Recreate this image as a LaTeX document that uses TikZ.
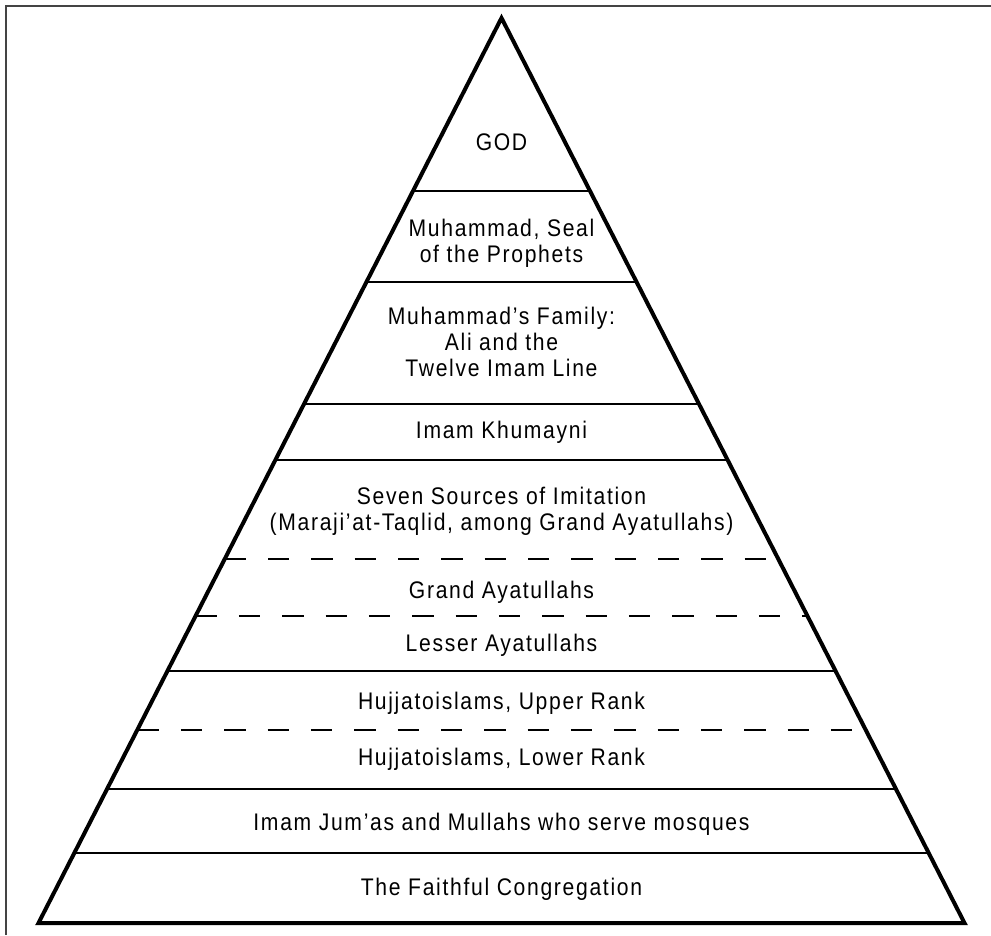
\documentclass[tikz,border=0pt]{standalone}
\usepackage{fontspec}
\setmainfont[FakeStretch=0.88,LetterSpace=7]{Liberation Sans}
\definecolor{framegray}{HTML}{444444}
\newcommand\tierrule[2]{\pgfmathsetmacro\tierhw{0.5116*(#2-18)}\draw[#1] ({501.5-\tierhw},#2) -- ({501.5+\tierhw},#2);}
\tikzset{
  lbl/.style={font=\fontsize{18}{19.7}\selectfont, align=center, anchor=base, inner sep=0pt},
  solidrule/.style={line width=1.5pt, black},
  dashrule/.style={line width=1.5pt, black, dash pattern=on 16pt off 16.5pt},
  pyramid/.style={line width=3pt, black, line join=miter},
  framerule/.style={line width=1.5pt, framegray}
}
\begin{document}
\begin{tikzpicture}[x=0.75pt,y=-0.75pt]
\useasboundingbox (0,0) rectangle (991,935);
\fill[white] (0,0) rectangle (991,935);
\draw[framerule] (6,935) -- (6,6) -- (991,6);
% tier rules
\tierrule{solidrule}{190.5}
\tierrule{solidrule}{282}
\tierrule{solidrule}{403.5}
\tierrule{solidrule}{460}
\tierrule{dashrule}{559}
\tierrule{dashrule}{616}
\tierrule{solidrule}{671}
\tierrule{dashrule}{729.5}
\tierrule{solidrule}{788.5}
\tierrule{solidrule}{853}
% pyramid outline
\coordinate (apex) at (501.5,18);
\coordinate (bl) at (38.5,923);
\coordinate (br) at (964.5,923);
\draw[pyramid] (apex) -- (bl) -- (br) -- cycle;
% labels (base anchor = baseline of the last line)
\node[lbl] (god) at (501.5,150) {GOD};
\node[lbl] (muh) at (501.5,262.7) {Muhammad, Seal\\of the Prophets};
\node[lbl] (fam) at (501.5,376.7) {Muhammad’s Family:\\Ali and the\\Twelve Imam Line};
\node[lbl] (khu) at (501.5,438.3) {Imam Khumayni};
\node[lbl] (sev) at (501.5,530.7) {Seven Sources of Imitation\\(Maraji’at-Taqlid, among Grand Ayatullahs)};
\node[lbl] (gra) at (501.5,598.3) {Grand Ayatullahs};
\node[lbl] (les) at (501.5,651) {Lesser Ayatullahs};
\node[lbl] (hup) at (501.5,709) {Hujjatoislams, Upper Rank};
\node[lbl] (hlo) at (501.5,765) {Hujjatoislams, Lower Rank};
\node[lbl] (jum) at (501.5,830.7) {Imam Jum’as and Mullahs who serve mosques};
\node[lbl] (fai) at (501.5,895.7) {The Faithful Congregation};
\end{tikzpicture}
\end{document}
